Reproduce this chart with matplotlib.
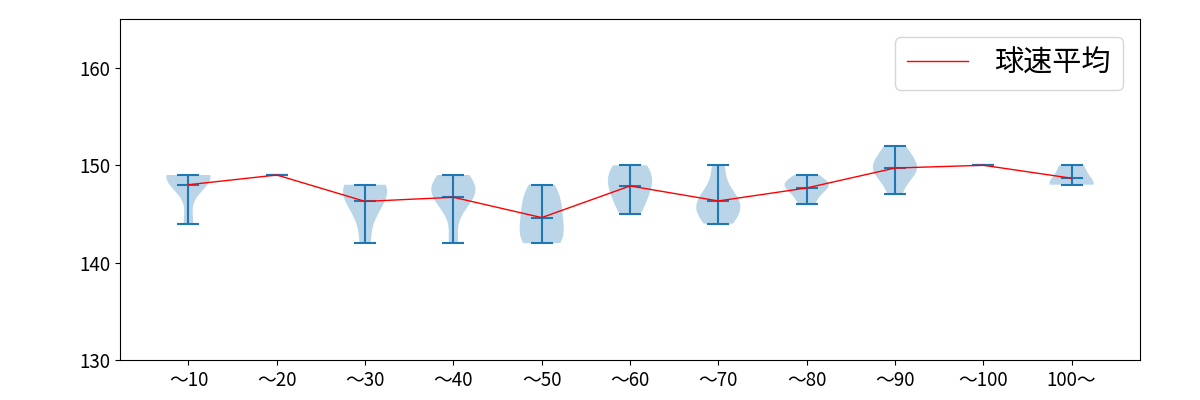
import numpy as np
import matplotlib
matplotlib.use("Agg")
import matplotlib.pyplot as plt
from matplotlib import cbook
from matplotlib import mlab

plt.rcParams['font.family'] = ['Noto Sans CJK JP', 'DejaVu Sans']

categories = ["～10", "～20", "～30", "～40", "～50", "～60", "～70", "～80", "～90", "～100", "100～"]
speeds = [
    [144, 148, 149, 149, 149, 149],
    [149],
    [142, 145, 146, 147, 148, 148, 148],
    [142, 146, 147, 147, 148, 148, 149],
    [142, 142, 143, 144, 145, 146, 147, 148],
    [145, 146, 147, 148, 148, 149, 150, 150],
    [144, 145, 146, 146, 147, 150],
    [146, 147, 148, 148, 148, 149],
    [147, 149, 149, 150, 150, 151, 152],
    [150],
    [148, 148, 150],
]
legend_label = "球速平均"


def kde(X, coords):
    X = np.asarray(X, dtype=float)
    if len(X) < 2 or np.ptp(X) == 0:
        return np.zeros_like(coords)
    return mlab.GaussianKDE(X, "scott").evaluate(coords)


fig, ax = plt.subplots(figsize=(12, 4), dpi=100)
fig.subplots_adjust(left=0.1, right=0.95, top=0.952, bottom=0.1)

positions = np.arange(1, len(categories) + 1)
stats = cbook.violin_stats(speeds, kde)
ax.violin(stats, positions=positions, widths=0.5, showmeans=True, showextrema=True)

means = [np.mean(s) for s in speeds]
ax.plot(positions, means, color="red", linewidth=1, label=legend_label)

ax.set_ylim(130, 165)
ax.set_yticks([130, 140, 150, 160])
ax.set_xticks(positions)
ax.set_xticklabels(categories)
ax.tick_params(labelsize=13.5)
ax.legend(loc="upper right", fontsize=21, handlelength=2.1, handletextpad=0.9,
          borderaxespad=0.6)

fig.savefig("out.png")
